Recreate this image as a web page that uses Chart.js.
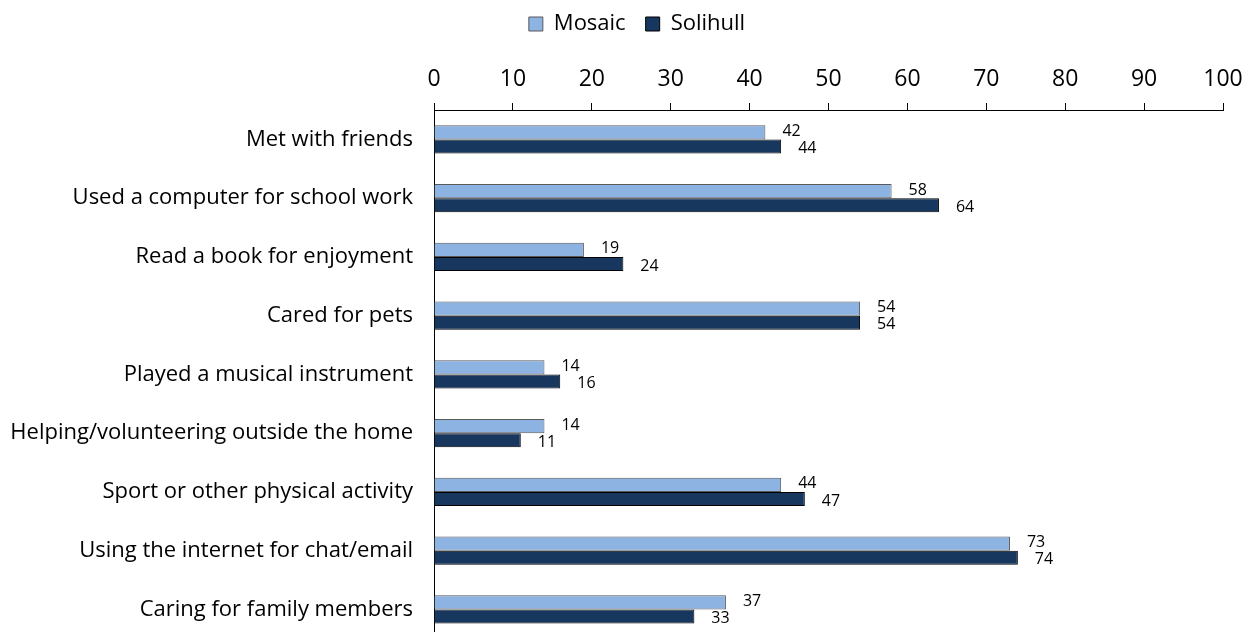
<!DOCTYPE html>
<html>
<head>
<meta charset="utf-8">
<script src="https://cdn.jsdelivr.net/npm/chart.js@4"></script>
<style>
  html, body { margin: 0; padding: 0; background: #fff; overflow: hidden; }
  #wrap { width: 1245px; height: 673px; position: relative; }
</style>
</head>
<body>
<div id="wrap"><canvas id="activityChart"></canvas></div>
<script>
// Activities: Mosaic vs Solihull (%)
const categories = [
    'Met with friends',
    'Used a computer for school work',
    'Read a book for enjoyment',
    'Cared for pets',
    'Played a musical instrument',
    'Helping/volunteering outside the home',
    'Sport or other physical activity',
    'Using the internet for chat/email',
    'Caring for family members'
];
const mosaic = [42, 58, 19, 54, 14, 14, 44, 73, 37];
const solihull = [44, 64, 24, 54, 16, 11, 47, 74, 33];
const xTicks = [0, 10, 20, 30, 40, 50, 60, 70, 80, 90, 100];

const FONT = '"Open Sans", Lato, sans-serif';

// value labels to the right of each bar
const barLabels = {
    id: 'barLabels',
    afterDatasetsDraw(chart) {
        const ctx = chart.ctx;
        ctx.save();
        ctx.font = '16px ' + FONT;
        ctx.fillStyle = '#000';
        ctx.textAlign = 'left';
        ctx.textBaseline = 'middle';
        chart.data.datasets.forEach((ds, i) => {
            const meta = chart.getDatasetMeta(i);
            meta.data.forEach((bar, j) => {
                const dy = i === 0 ? -1 : 2;
                ctx.fillText(ds.data[j], bar.x + 17, bar.y + dy);
            });
        });
        ctx.restore();
    }
};

// legend sits a bit right of the canvas centre, over the plot
const shiftLegend = {
    id: 'shiftLegend',
    afterLayout(chart) {
        chart.legend.left += 51;
    }
};

new Chart(document.getElementById('activityChart'), {
    type: 'bar',
    data: {
        labels: categories,
        datasets: [{
            label: 'Mosaic',
            data: mosaic,
            backgroundColor: '#8db3e2',
            borderColor: '#595959',
            borderWidth: 1,
            borderSkipped: 'left'
        }, {
            label: 'Solihull',
            data: solihull,
            backgroundColor: '#17375e',
            borderColor: '#000',
            borderWidth: 1,
            borderSkipped: 'left'
        }]
    },
    options: {
        indexAxis: 'y',
        responsive: true,
        maintainAspectRatio: false,
        animation: false,
        categoryPercentage: 0.48,
        barPercentage: 1,
        layout: { padding: { left: 0, right: 22, top: -7, bottom: 0 } },
        plugins: {
            legend: {
                position: 'top',
                labels: {
                    font: { family: FONT, size: 22 },
                    color: '#000',
                    boxWidth: 14,
                    boxHeight: 14,
                    padding: 20
                }
            },
            tooltip: { enabled: false }
        },
        scales: {
            x: {
                position: 'top',
                min: 0,
                max: 100,
                afterBuildTicks: (scale) => { scale.ticks = xTicks.map(v => ({ value: v })); },
                afterFit: (scale) => {
                    scale.height = 65;
                    scale.paddingLeft = 0;
                    scale.paddingRight = 22;
                },
                ticks: {
                    font: { family: FONT, size: 23 },
                    color: '#000',
                    padding: 10
                },
                grid: { drawOnChartArea: false, drawTicks: true, tickLength: 7, color: '#000' },
                border: { display: true, color: '#000', width: 1 }
            },
            y: {
                afterFit: (scale) => { scale.width = 434; },
                ticks: {
                    font: { family: FONT, size: 22 },
                    color: '#000',
                    padding: 21
                },
                grid: { drawOnChartArea: false, drawTicks: false },
                border: { display: true, color: '#000', width: 1 }
            }
        }
    },
    plugins: [barLabels, shiftLegend]
});
</script>
</body>
</html>
